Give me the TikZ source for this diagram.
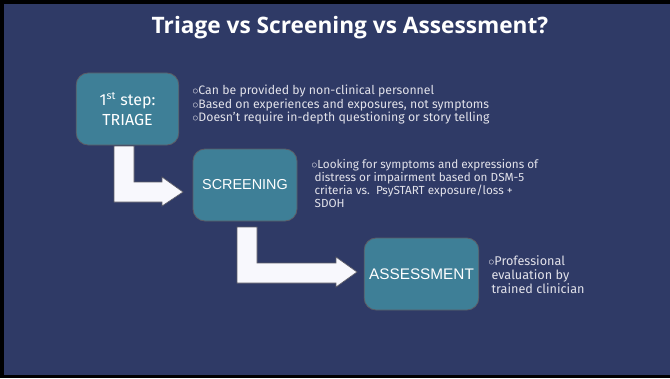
\documentclass[tikz,border=0pt]{standalone}
\usepackage{fontspec}
\setmainfont{Fira Sans}
\newfontfamily\titlefont{Open Sans}
\newfontfamily\arialfont{Liberation Sans}
\usetikzlibrary{positioning}

\definecolor{navy}{HTML}{2F3A66}
\definecolor{teal}{HTML}{3E7F97}
\definecolor{rim}{HTML}{5C5C66}
\definecolor{paper}{HTML}{F8F8FD}
\definecolor{note}{HTML}{E2E2EA}

\newcommand{\bul}{$\circ$}
\newcommand{\ind}{\hspace*{2.5pt}}

\tikzset{
  stage/.style={draw=rim, line width=0.6pt, fill=teal, rounded corners=9pt,
    minimum height=54pt, text=white, align=center, inner sep=0pt},
  notes/.style={anchor=north west, align=left, text=note, inner sep=0pt},
  bigarrow/.style={draw=rim, line width=0.5pt, fill=paper}
}

\begin{document}
\begin{tikzpicture}[x=0.75pt,y=-0.75pt]
  \useasboundingbox (0,0) rectangle (670,378);
  \fill[black] (0,0) rectangle (670,378);
  \fill[navy] (4,4) rectangle (670,375);

  \node (title) at (350,28) {\titlefont\bfseries\fontsize{17}{20}\selectfont\color{white}Triage vs Screening vs Assessment?};

  \draw
    (127.5,109) node[stage, minimum width=77pt, font=\fontsize{12}{15}\selectfont] (triage)
      {1\textsuperscript{st} step:\\TRIAGE}
    (245,185) node[stage, minimum width=78pt, font=\arialfont\fontsize{10.8}{13}\selectfont] (screening)
      {SCREENING}
    (421.5,274) node[stage, minimum width=86pt, font=\arialfont\fontsize{11.5}{13}\selectfont] (assessment)
      {ASSESSMENT};

  \node[notes, font=\fontsize{9.2}{10.1}\selectfont] (tnotes) at (192,85)
    {\bul Can be provided by non-clinical personnel\\
     \bul Based on experiences and exposures, not symptoms\\
     \bul Doesn't require in-depth questioning or story telling};
  \node[notes, font=\fontsize{8.8}{9.75}\selectfont] (snotes) at (311,159)
    {\bul Looking for symptoms and expressions of\\
     \ind distress or impairment based on DSM-5\\
     \ind criteria vs.\ \ PsySTART exposure/loss +\\
     \ind SDOH};
  \node[notes, font=\fontsize{9.5}{10.5}\selectfont] (anotes) at (488,255)
    {\bul Professional\\
     \ind evaluation by\\
     \ind trained clinician};

  \draw[bigarrow] (114,146) -- (134,146) -- (134,182) -- (162,182) -- (162,177)
    -- (183,192) -- (162,206) -- (162,202) -- (114,202) -- cycle;
  \draw[bigarrow] (237,227) -- (257,227) -- (257,263) -- (336,263) -- (336,257)
    -- (357,272) -- (336,287) -- (336,283) -- (237,283) -- cycle;
\end{tikzpicture}
\end{document}
